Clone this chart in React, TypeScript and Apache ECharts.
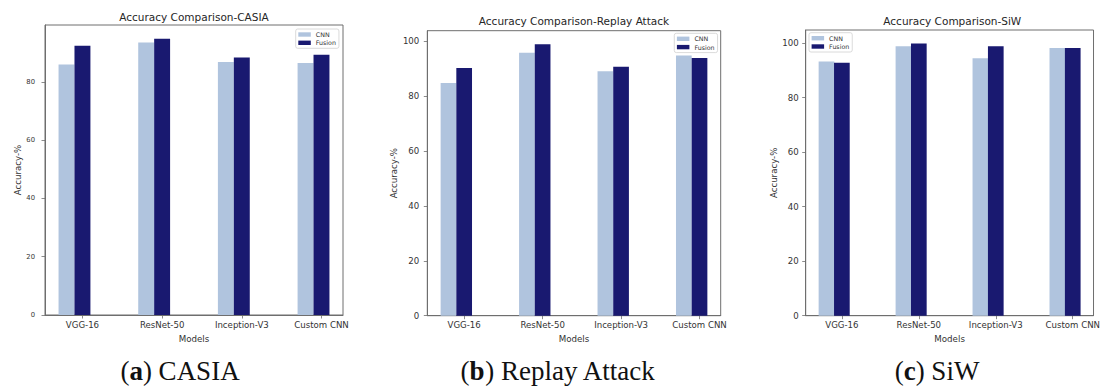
import React, { useEffect, useRef } from "react";
import * as echarts from "echarts";

// Model names shared by all three panels
const models = ["VGG-16", "ResNet-50", "Inception-V3", "Custom CNN"];

// Accuracy (%) per model
const casiaCnn = [86.0, 93.5, 86.8, 86.5];
const casiaFusion = [92.4, 94.8, 88.4, 89.3];
const replayCnn = [84.7, 95.7, 89.0, 94.7];
const replayFusion = [90.2, 98.8, 90.6, 93.8];
const siwCnn = [93.2, 98.8, 94.4, 98.2];
const siwFusion = [92.8, 99.8, 98.8, 98.2];

// Y tick labels per panel
const casiaTicks = [0, 20, 40, 60, 80];
const replayTicks = [0, 20, 40, 60, 80, 100];
const siwTicks = [0, 20, 40, 60, 80, 100];

const titles = [
  "Accuracy Comparison-CASIA",
  "Accuracy Comparison-Replay Attack",
  "Accuracy Comparison-SiW",
];
const captionTags = ["a", "b", "c"];
const captionNames = ["CASIA", "Replay Attack", "SiW"];
const seriesNames = ["CNN", "Fusion"];

const CNN_COLOR = "#B0C4DE";
const FUSION_COLOR = "#191970";
const SPINE = "#6e6e6e";
const TEXT = "#333333";
const SANS = "'DejaVu Sans', sans-serif";
const SERIF = "'Liberation Serif', serif";

// bar width in category units (one unit between neighbouring models)
const BAR_W = 0.2;

const panels = [
  {
    cnn: casiaCnn, fusion: casiaFusion, ticks: casiaTicks,
    left: 45, top: 25, width: 298, height: 290,
    yFont: 6.8, yMargin: 10, yNameGap: 20.3, xMargin: 5.8,
    titleX: 194, titleY: 16.7, captionX: 180,
    legendLeft: 295.7, legendTop: 29,
  },
  {
    cnn: replayCnn, fusion: replayFusion, ticks: replayTicks,
    left: 427.3, top: 30.7, width: 293.4, height: 285,
    yFont: 8.6, yMargin: 8, yNameGap: 27.1, xMargin: 4.8,
    titleX: 574, titleY: 21, captionX: 558,
    legendLeft: 674.3, legendTop: 33.3,
  },
  {
    cnn: siwCnn, fusion: siwFusion, ticks: siwTicks,
    left: 805.7, top: 30, width: 293.3, height: 285.7,
    yFont: 8.6, yMargin: 7, yNameGap: 26.2, xMargin: 4.8,
    titleX: 952.3, titleY: 21, captionX: 937,
    legendLeft: 809, legendTop: 32.7,
  },
];

function buildOption() {
  const lo = -1.5 * BAR_W;
  const hi = models.length - 1 + 0.5 * BAR_W;
  const pad = 0.05 * (hi - lo);
  const xMin = lo - pad;
  const xMax = hi + pad;
  const catIdx = models.map((_, i) => i);

  const grid: any[] = [];
  const xAxis: any[] = [];
  const yAxis: any[] = [];
  const series: any[] = [];
  const legend: any[] = [];
  const graphic: any[] = [];

  panels.forEach((p, k) => {
    const yMax = Math.max(...p.cnn, ...p.fusion) * 1.05;
    const barPx = (p.width / (xMax - xMin)) * BAR_W;

    grid.push({
      left: p.left, top: p.top, width: p.width, height: p.height,
      show: true, borderColor: SPINE, borderWidth: 1, backgroundColor: "transparent",
    });

    xAxis.push({
      type: "value", gridIndex: k, min: xMin, max: xMax,
      name: "Models", nameLocation: "middle", nameGap: 17.3,
      nameTextStyle: { fontFamily: SANS, fontSize: 8.7, color: TEXT },
      axisLine: { show: true, onZero: false, lineStyle: { color: SPINE, width: 1 } },
      axisTick: { show: true, length: 3.5, customValues: catIdx, lineStyle: { color: SPINE, width: 0.8 } },
      axisLabel: {
        customValues: catIdx, margin: p.xMargin,
        fontFamily: SANS, fontSize: 8.6, color: TEXT,
        formatter: (v: number) => models[Math.round(v)] ?? "",
      },
      splitLine: { show: false },
    });

    yAxis.push({
      type: "value", gridIndex: k, min: 0, max: yMax,
      name: "Accuracy-%", nameLocation: "middle", nameGap: p.yNameGap,
      nameTextStyle: { fontFamily: SANS, fontSize: 8.6, color: TEXT },
      axisLine: { show: true, onZero: false, lineStyle: { color: SPINE, width: 1 } },
      axisTick: { show: true, length: 3.5, customValues: p.ticks, lineStyle: { color: SPINE, width: 0.8 } },
      axisLabel: {
        customValues: p.ticks, margin: p.yMargin,
        fontFamily: SANS, fontSize: p.yFont, color: TEXT,
      },
      splitLine: { show: false },
    });

    series.push({
      type: "bar", name: seriesNames[0], xAxisIndex: k, yAxisIndex: k,
      barWidth: barPx, barGap: "-100%",
      itemStyle: { color: CNN_COLOR },
      data: p.cnn.map((v, i) => [i - BAR_W, v]),
    });
    series.push({
      type: "bar", name: seriesNames[1], xAxisIndex: k, yAxisIndex: k,
      barWidth: barPx, barGap: "-100%",
      itemStyle: { color: FUSION_COLOR },
      data: p.fusion.map((v, i) => [i, v]),
    });

    legend.push({
      data: seriesNames, orient: "vertical",
      left: p.legendLeft, top: p.legendTop,
      icon: "rect", itemWidth: 12.5, itemHeight: 4.4, itemGap: 1.3,
      padding: [2, 3, 2, 2.6],
      borderColor: "#d0d0d0", borderWidth: 0.8, borderRadius: 2,
      backgroundColor: "rgba(255,255,255,0.8)",
      selectedMode: false,
      textStyle: { fontFamily: SANS, fontSize: 6.3, lineHeight: 7, color: TEXT },
    });

    graphic.push({
      type: "text", x: p.titleX, y: p.titleY,
      style: {
        text: titles[k], fontFamily: SANS, fontSize: 10.5, fill: "#262626",
        align: "center", verticalAlign: "middle",
      },
    });
    graphic.push({
      type: "text", x: p.captionX, y: 371,
      style: {
        text: `({b|${captionTags[k]}}) ${captionNames[k]}`,
        fontFamily: SERIF, fontSize: 27, fill: "#111",
        align: "center", verticalAlign: "middle",
        rich: { b: { fontFamily: SERIF, fontSize: 27, fontWeight: "bold", fill: "#111" } },
      },
    });
  });

  return {
    animation: false,
    backgroundColor: "#ffffff",
    grid, xAxis, yAxis, series, legend, graphic,
  };
}

export default function App() {
  const ref = useRef<HTMLDivElement>(null);
  useEffect(() => {
    if (!ref.current) return;
    const chart = echarts.init(ref.current, null, { renderer: "svg" });
    chart.setOption(buildOption() as any);
    return () => chart.dispose();
  }, []);
  return (
    <div
      ref={ref}
      style={{ position: "fixed", left: 0, top: 0, width: 1103, height: 388, background: "#fff" }}
    />
  );
}
